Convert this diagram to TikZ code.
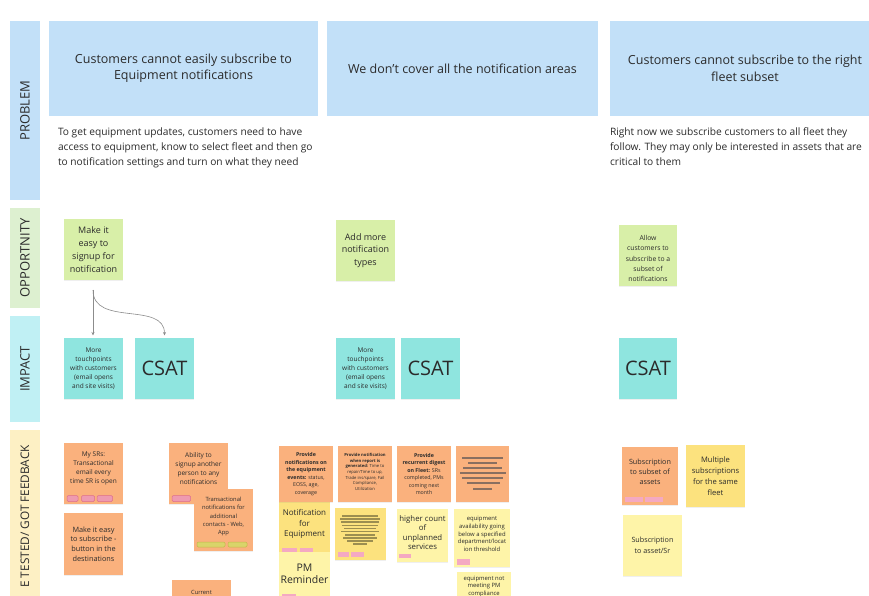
\documentclass[tikz,border=0pt]{standalone}
\usepackage{fontspec}
\setmainfont{Open Sans}
\usetikzlibrary{arrows.meta,shadows}
\definecolor{hdrblue}{HTML}{C2E0F8}
\definecolor{labgreen}{HTML}{DDF0D0}
\definecolor{labcyan}{HTML}{C0F0F4}
\definecolor{labyellow}{HTML}{FDF0C4}
\definecolor{stgreen}{HTML}{D8EFA8}
\definecolor{stcyan}{HTML}{8FE5DF}
\definecolor{storange}{HTML}{FAB17D}
\definecolor{styellow}{HTML}{FCE27E}
\definecolor{stlight}{HTML}{FEF4A8}
\definecolor{txt}{HTML}{2B2B2B}
\definecolor{tagpink}{HTML}{EE9AB0}
\definecolor{tagpinkd}{HTML}{DD6F8C}
\definecolor{taglight}{HTML}{F4A9C2}
\definecolor{tagolive}{HTML}{D9D46A}
\definecolor{tagolived}{HTML}{C2B84A}
\definecolor{greekor}{HTML}{8A6F60}
\definecolor{greekye}{HTML}{9C8E50}
\definecolor{connc}{HTML}{8C8C8C}
\newcommand\fsz[2]{\fontsize{#1}{#2}\selectfont}
\tikzset{
  panel/.style={inner sep=0, outer sep=0, anchor=north west},
  sticky/.style={inner sep=0, outer sep=0, anchor=north west,
    drop shadow={opacity=0.12, shadow xshift=0.4pt, shadow yshift=-1.3pt}},
  stxt/.style={align=center, text=txt, inner sep=0},
  labtxt/.style={rotate=90, text=txt, inner sep=0, font=\fsz{13}{15}},
  conn/.style={draw=connc, line width=0.6pt, -{Stealth[length=3.5pt,width=3pt]}},
  tagp/.style={fill=tagpink, draw=tagpinkd, line width=0.5pt, rounded corners=1.2pt},
  tagl/.style={fill=taglight, draw=none},
  tago/.style={fill=tagolive, draw=tagolived, line width=0.5pt, rounded corners=1.2pt},
  gko/.style={draw=greekor, line width=1.3pt},
  gky/.style={draw=greekye, line width=1.1pt},
}
\begin{document}
\begin{tikzpicture}[x=1pt,y=-1pt]
\clip (0,0) rectangle (869,596);
\fill[white] (0,0) rectangle (869,596);

% ---------- row labels ----------
\node[panel, fill=hdrblue, minimum width=30, minimum height=179] (lprob) at (10,21) {};
\node[labtxt] (lprobt) at (lprob.center) {PROBLEM};
\node[panel, fill=labgreen, minimum width=30, minimum height=100] (lopp) at (10,208) {};
\node[labtxt] (loppt) at (lopp.center) {OPPORTNITY};
\node[panel, fill=labcyan, minimum width=30, minimum height=106] (limp) at (10,316) {};
\node[labtxt] (limpt) at (limp.center) {IMPACT};
\node[panel, fill=labyellow, minimum width=30, minimum height=180] (lfb) at (10,430) {};
\node[labtxt, anchor=east, font=\fsz{11.8}{14}] (lfbt) at (25,445) {E TESTED/ GOT FEEDBACK};

% ---------- problem headers ----------
\node[panel, fill=hdrblue, minimum width=269, minimum height=95] (h1) at (49,21) {};
\node[stxt, font=\fsz{12.5}{16.5}] (h1t) at (h1.center) {Customers cannot easily subscribe to\\Equipment notifications};
\node[panel, fill=hdrblue, minimum width=271, minimum height=95] (h2) at (327,21) {};
\node[stxt, font=\fsz{12.5}{16.5}] (h2t) at (h2.center) {We don't cover all the notification areas};
\node[panel, fill=hdrblue, minimum width=270, minimum height=95] (h3) at (610,21) {};
\node[stxt, font=\fsz{12.5}{16.5}] (h3t) at (h3.center) {Customers cannot subscribe to the right\\fleet subset};

\node[panel, align=left, text=txt, font=\fsz{10.2}{15}] (d1) at (58,128)
  {To get equipment updates, customers need to have\\access to equipment, know to select fleet and then go\\to notification settings and turn on what they need};
\node[panel, align=left, text=txt, font=\fsz{10.2}{15}] (d3) at (610,128)
  {Right now we subscribe customers to all fleet they\\follow. They may only be interested in assets that are\\critical to them};

% ---------- opportunity ----------
\node[sticky, fill=stgreen, minimum width=59, minimum height=61] (o1) at (64,219) {};
\node[stxt, font=\fsz{9}{12.8}] (o1t) at (o1.center) {Make it\\easy to\\signup for\\notification};
\node[sticky, fill=stgreen, minimum width=59, minimum height=61] (o2) at (336,220) {};
\node[stxt, font=\fsz{9}{12.8}] (o2t) at (o2.center) {Add more\\notification\\types};
\node[sticky, fill=stgreen, minimum width=58, minimum height=61] (o3) at (619,225) {};
\node[stxt, font=\fsz{6.8}{10.3}] (o3t) at ([yshift=-3pt]o3.center) {Allow\\customers to\\subscribe to a\\subset of\\notifications};

% ---------- impact ----------
\node[sticky, fill=stcyan, minimum width=59, minimum height=61] (i1) at (64,338) {};
\node[stxt, font=\fsz{6.5}{9}] (i1t) at (i1.center) {More\\touchpoints\\with customers\\(email opens\\and site visits)};
\node[sticky, fill=stcyan, minimum width=59, minimum height=61] (i2) at (135,338) {};
\node[stxt, font=\fsz{20}{24}] (i2t) at (i2.center) {CSAT};
\node[sticky, fill=stcyan, minimum width=59, minimum height=61] (i3) at (336,338) {};
\node[stxt, font=\fsz{6.5}{9}] (i3t) at (i3.center) {More\\touchpoints\\with customers\\(email opens\\and site visits)};
\node[sticky, fill=stcyan, minimum width=59, minimum height=61] (i4) at (401,338) {};
\node[stxt, font=\fsz{20}{24}] (i4t) at (i4.center) {CSAT};
\node[sticky, fill=stcyan, minimum width=58, minimum height=61] (i5) at (619,338) {};
\node[stxt, font=\fsz{20}{24}] (i5t) at (i5.center) {CSAT};

\coordinate (c1) at (93,290);
\draw[conn, shorten >=2.5pt] (c1) -- (c1 |- i1.north);
\draw[conn, shorten >=2.5pt] (c1) to[out=-90, in=90, looseness=1.1] (i2.north);

% ---------- feedback column 1 ----------
\node[sticky, fill=storange, minimum width=59, minimum height=61] (f1) at (64,443) {};
\node[stxt, font=\fsz{6.5}{9.2}] (f1t) at ([yshift=5pt]f1.center) {My SRs:\\Transactional\\email every\\time SR is open};
\draw[tagp] (67,495.5) rectangle (78,501.5);
\draw[tagp] (81.5,495.5) rectangle (94.5,501.5);
\draw[tagp] (97,495.5) rectangle (112.5,501.5);

\node[sticky, fill=storange, minimum width=59, minimum height=62] (f2) at (64,513) {};
\node[stxt, font=\fsz{7.3}{9.7}] (f2t) at (f2.center) {Make it easy\\to subscribe -\\button in the\\destinations};

\node[sticky, fill=storange, minimum width=59, minimum height=61] (f3) at (169,443) {};
\node[stxt, font=\fsz{6.5}{9.2}] (f3t) at ([yshift=5pt]f3.center) {Ability to\\signup another\\person to any\\notifications};
\draw[tagp] (172,495.5) rectangle (190.5,501.5);

\node[sticky, fill=storange, minimum width=59, minimum height=62] (f4) at (194,489) {};
\node[stxt, font=\fsz{5.8}{8.2}] (f4t) at ([yshift=3.5pt]f4.center) {Transactional\\notifications for\\additional\\contacts - Web,\\App};
\draw[tago] (197,542) rectangle (225,547);
\draw[tago] (228,542) rectangle (247,547);

\node[sticky, fill=storange, minimum width=59, minimum height=40] (f5) at (172,580) {};
\node[stxt, font=\fsz{5.8}{8}, anchor=center] (f5t) at (201.5,592.5) {Current};

% ---------- feedback column 2 ----------
\node[sticky, fill=styellow, minimum width=51, minimum height=56] (g5) at (279,499) {};
\node[stxt, font=\fsz{8}{10.2}] (g5t) at (304.5,524) {Notification\\for\\Equipment};
\draw[tagl] (282,547.5) rectangle (297,552);
\draw[tagl] (300,547.5) rectangle (313,552);

\node[sticky, fill=stlight, minimum width=51, minimum height=50] (g10) at (279,552) {};
\node[stxt, font=\fsz{10.5}{12.5}] (g10t) at (304.5,574) {PM\\Reminder};
\draw[tagl] (282,593.5) rectangle (296,598);

\node[sticky, fill=storange, minimum width=54, minimum height=56] (g1) at (279,446) {};
\node[stxt, font=\fsz{5.3}{7.5}] (g1t) at (g1.center) {\textbf{Provide}\\\textbf{notifications on}\\\textbf{the equipment}\\\textbf{events:} status,\\EOSS, age,\\coverage};

\node[sticky, fill=storange, minimum width=54, minimum height=56] (g2) at (338,446) {};
\node[stxt, font=\fsz{4.2}{5.6}] (g2t) at ([yshift=2pt]g2.center) {\textbf{Provide notification}\\\textbf{when report is}\\\textbf{generated:} Time to\\repair/Time to up,\\Trade ins/spare, Fail\\Compliance,\\Utilization};

\node[sticky, fill=storange, minimum width=54, minimum height=56] (g3) at (397,446) {};
\node[stxt, font=\fsz{5.3}{7.5}] (g3t) at (g3.center) {\textbf{Provide}\\\textbf{recurrent digest}\\\textbf{on Fleet:} SRs\\completed, PMs\\coming next\\month};

\node[sticky, fill=storange, minimum width=53, minimum height=56] (g4) at (456,446) {};
\draw[gko] (462,458) -- (503,458);
\draw[gko] (468,463) -- (497,463);
\draw[gko] (463,468) -- (502,468);
\draw[gko] (460,473) -- (506,473);
\draw[gko] (462,478) -- (503,478);
\draw[gko] (467,483) -- (500,483);
\draw[gko] (473,489) -- (492,489);

\node[sticky, fill=styellow, minimum width=51, minimum height=52] (g6) at (335,508) {};
\draw[gky] (342,516) -- (378,516);
\draw[gky] (340,519) -- (380,519);
\draw[gky] (341,522) -- (379,522);
\draw[gky] (342,525.5) -- (378,525.5);
\draw[gky] (344,528.5) -- (376,528.5);
\draw[gky] (341,531.5) -- (379,531.5);
\draw[gky] (345,535) -- (375,535);
\draw[gky] (343,538) -- (377,538);
\draw[gky] (347,541) -- (373,541);
\draw[gky] (353,544) -- (367,544);
\draw[tagl] (338,552) rectangle (349,557);
\draw[tagl] (350.5,552) rectangle (364,557);

\node[sticky, fill=stlight, minimum width=51, minimum height=53] (g7) at (397,509) {};
\node[stxt, font=\fsz{7.8}{9.5}] (g7t) at ([yshift=3pt]g7.center) {higher count\\of\\unplanned\\services};
\draw[tagl] (399,553.5) rectangle (411,558);

\node[sticky, fill=stlight, minimum width=56, minimum height=58] (g8) at (454,509) {};
\node[stxt, font=\fsz{5.9}{7.6}] (g8t) at ([yshift=4pt]g8.center) {equipment\\availability going\\below a specified\\department/locat\\ion threshold};
\draw[tagl] (457,559) rectangle (470,565);

\node[sticky, fill=stlight, minimum width=54, minimum height=40] (g9) at (457,572) {};
\node[stxt, font=\fsz{5.9}{7.4}, anchor=north] (g9t) at (484,576) {equipment not\\meeting PM\\compliance};

% ---------- feedback column 3 ----------
\node[sticky, fill=storange, minimum width=56, minimum height=58] (k1) at (622,447) {};
\node[stxt, font=\fsz{7.2}{10}] (k1t) at (650,472) {Subscription\\to subset of\\assets};
\draw[tagl] (625,497) rectangle (643,502);
\draw[tagl] (645,497) rectangle (663,502);

\node[sticky, fill=styellow, minimum width=59, minimum height=62] (k2) at (686,445) {};
\node[stxt, font=\fsz{7.6}{11}] (k2t) at (k2.center) {Multiple\\subscriptions\\for the same\\fleet};

\node[sticky, fill=stlight, minimum width=59, minimum height=61] (k3) at (623,515) {};
\node[stxt, font=\fsz{7.2}{11}] (k3t) at (k3.center) {Subscription\\to asset/Sr};
\end{tikzpicture}
\end{document}
